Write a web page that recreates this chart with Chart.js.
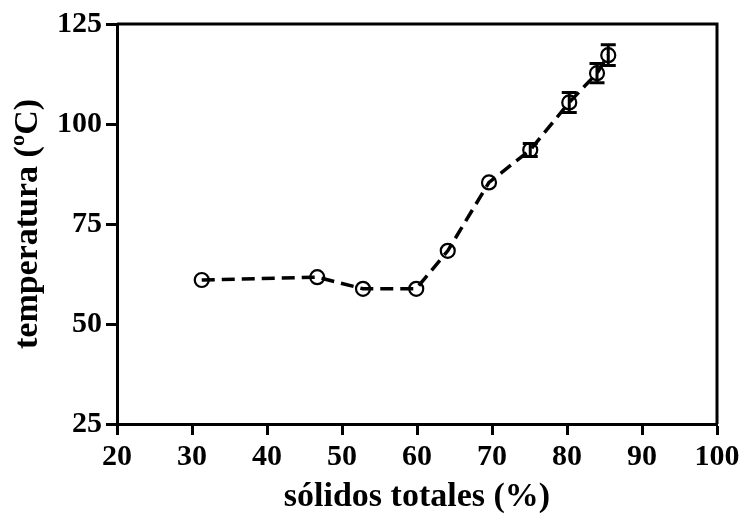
<!DOCTYPE html>
<html>
<head>
<meta charset="utf-8">
<script src="https://cdn.jsdelivr.net/npm/chart.js@4/dist/chart.umd.min.js"></script>
<style>
  html, body { margin: 0; padding: 0; background: #fff; }
  #wrap { width: 742px; height: 518px; }
</style>
</head>
<body>
<div id="wrap"><canvas id="c" width="742" height="518"></canvas></div>
<script>
const solidos = [31.3, 46.7, 52.8, 59.9, 64.1, 69.6, 75.1, 80.3, 84.0, 85.5];
const temperatura = [61.0, 61.7, 58.8, 58.8, 68.3, 85.4, 93.5, 105.4, 112.7, 117.2];
const errorSD = [0, 0, 0, 0, 0, 0, 1.6, 2.5, 2.4, 2.6];
const xTicks = [20, 30, 40, 50, 60, 70, 80, 90, 100];
const yTicks = [25, 50, 75, 100, 125];

const serif = "'Liberation Serif', 'Times New Roman', serif";

// barras de error + marco completo
const errorBars = {
    id: "errorBars",
    afterDatasetsDraw(chart) {
        const { ctx, scales: { x, y } } = chart;
        ctx.save();
        ctx.strokeStyle = "#000";
        ctx.lineWidth = 3;
        solidos.forEach((s, i) => {
            if (!errorSD[i]) return;
            const px = x.getPixelForValue(s);
            const top = y.getPixelForValue(temperatura[i] + errorSD[i]);
            const bot = y.getPixelForValue(temperatura[i] - errorSD[i]);
            ctx.beginPath();
            ctx.moveTo(px, top); ctx.lineTo(px, bot);
            ctx.moveTo(px - 7.5, top); ctx.lineTo(px + 7.5, top);
            ctx.moveTo(px - 7.5, bot); ctx.lineTo(px + 7.5, bot);
            ctx.stroke();
        });
        const a = chart.chartArea;
        ctx.lineWidth = 3;
        ctx.beginPath();
        ctx.moveTo(a.left, a.top); ctx.lineTo(a.right, a.top); ctx.lineTo(a.right, a.bottom);
        ctx.stroke();
        ctx.restore();
    }
};

new Chart(document.getElementById("c"), {
    type: "scatter",
    data: {
        datasets: [{
            data: solidos.map((s, i) => ({ x: s, y: temperatura[i] })),
            showLine: true,
            borderColor: "#000",
            borderWidth: 3.5,
            borderDash: [13, 7],
            pointRadius: 7,
            pointBorderWidth: 2.2,
            pointBorderColor: "#000",
            pointBackgroundColor: "rgba(0,0,0,0)",
            tension: 0
        }]
    },
    options: {
        responsive: false,
        animation: false,
        layout: { padding: { top: 24, right: 25, bottom: 0, left: 0 } },
        plugins: { legend: { display: false }, tooltip: { enabled: false } },
        scales: {
            x: {
                type: "linear", min: 20, max: 100,
                afterBuildTicks: s => { s.ticks = xTicks.map(v => ({ value: v })); },
                afterFit: s => { s.height = 94; s.paddingRight = 0; s.paddingLeft = 0; },
                grid: { drawOnChartArea: false, drawTicks: true, tickLength: 11, tickWidth: 3, tickColor: "#000" },
                border: { display: true, color: "#000", width: 3 },
                ticks: { color: "#000", padding: 4, maxRotation: 0, font: { family: serif, size: 30, weight: "bold" } },
                title: { display: true, text: "sólidos totales (%)", color: "#000", padding: { top: 0, bottom: 0 },
                         font: { family: serif, size: 34, weight: "bold" } }
            },
            y: {
                type: "linear", min: 25, max: 125,
                afterBuildTicks: s => { s.ticks = yTicks.map(v => ({ value: v })); },
                afterFit: s => { s.width = 117; s.paddingTop = 0; s.paddingBottom = 0; },
                grid: { drawOnChartArea: false, drawTicks: true, tickLength: 11, tickWidth: 3, tickColor: "#000" },
                border: { display: true, color: "#000", width: 3 },
                ticks: { color: "#000", padding: 4, font: { family: serif, size: 30, weight: "bold" } },
                title: { display: true, text: "temperatura (ºC)", color: "#000", padding: { top: 8, bottom: 0 },
                         font: { family: serif, size: 34, weight: "bold" } }
            }
        }
    },
    plugins: [errorBars]
});
</script>
</body>
</html>
